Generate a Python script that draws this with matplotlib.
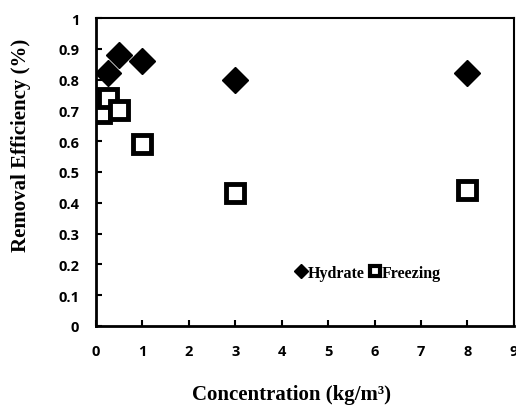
import matplotlib
matplotlib.use('Agg')
import matplotlib.pyplot as plt

# data
hyd_x = [0.25, 0.5, 1, 3, 8]
hyd_y = [0.82, 0.88, 0.86, 0.80, 0.82]
frz_x = [0.1, 0.25, 0.5, 1, 3, 8]
frz_y = [0.69, 0.74, 0.70, 0.59, 0.43, 0.44]

xticks = list(range(0, 10))
yticks = [i / 10 for i in range(0, 11)]

fig = plt.figure(figsize=(5.16, 4.06), dpi=100)
ax = fig.add_axes([0.186, 0.195, 0.810, 0.758])

ax.plot(hyd_x, hyd_y, ls='none', marker='D', ms=13, mfc='black', mec='black',
        mew=1, label='Hydrate')
ax.plot(frz_x, frz_y, ls='none', marker='s', ms=13, mfc='white', mec='black',
        mew=3.5, label='Freezing')

ax.set_xlim(0, 9)
ax.set_ylim(0, 1)
ax.set_xticks(xticks)
ax.set_yticks(yticks)
ax.set_xticklabels([str(t) for t in xticks])
ax.set_yticklabels(['0' if t == 0 else ('1' if t == 1 else '%.1f' % t) for t in yticks])

for lab in ax.get_xticklabels() + ax.get_yticklabels():
    lab.set_fontfamily('Open Sans')
    lab.set_fontweight('bold')
    lab.set_fontsize(10.5)

ax.tick_params(direction='in', length=4, width=1.5, top=False, right=False)
ax.tick_params(axis='x', pad=13)
ax.tick_params(axis='y', pad=12)
for side in ['left', 'bottom']:
    ax.spines[side].set_linewidth(2)
for side in ['top', 'right']:
    ax.spines[side].set_linewidth(1.5)

ax.set_xlabel('Concentration (kg/m³)', fontfamily='Liberation Serif',
              fontweight='bold', fontsize=15)
ax.set_ylabel('Removal Efficiency (%)', fontfamily='Liberation Serif',
              fontweight='bold', fontsize=15)
ax.xaxis.set_label_coords(0.469, -0.19)
ax.yaxis.set_label_coords(-0.155, 0.59)

leg = ax.legend(loc='center left', bbox_to_anchor=(0.478, 0.172), ncol=2,
                frameon=False, handlelength=0.7, handletextpad=0.05,
                columnspacing=0.3, borderaxespad=0, borderpad=0,
                prop=dict(family='Liberation Serif', weight='bold', size=11.5))
hs = leg.legend_handles
hs[0].set_markersize(7.5)
hs[1].set_markersize(6.5)
hs[1].set_markeredgewidth(3)

fig.savefig('out.png', dpi=100)
